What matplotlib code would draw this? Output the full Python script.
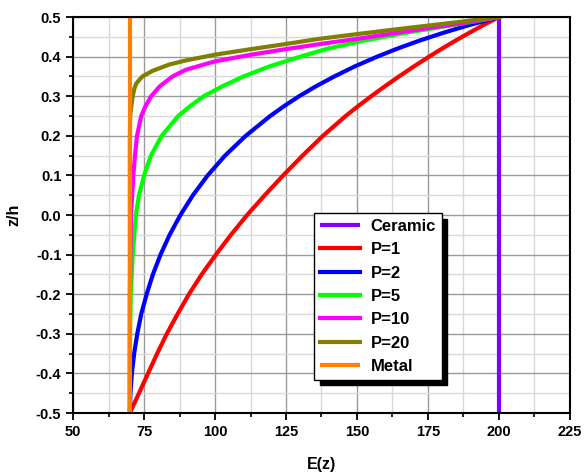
import matplotlib
matplotlib.use("Agg")
import matplotlib.pyplot as plt
from matplotlib.ticker import MultipleLocator, FormatStrFormatter

plt.rcParams['font.family'] = ['Liberation Sans', 'DejaVu Sans']
plt.rcParams['font.weight'] = 'bold'
plt.rcParams['axes.unicode_minus'] = False

# Values (E(z) against z/h)
z_p1 = [-0.5, -0.45, -0.4, -0.35, -0.3, -0.25, -0.2, -0.15, -0.1, -0.05,
        0.0, 0.05, 0.1, 0.15, 0.2, 0.25, 0.275, 0.3, 0.325, 0.35,
        0.375, 0.4, 0.42, 0.44, 0.46, 0.48, 0.5]
E_p1 = [70, 73.2, 76.4, 79.6, 83.0, 86.8, 90.8, 95.3, 100.3, 105.6,
        111.3, 117.5, 124.0, 130.8, 138.0, 146.0, 150.4, 155.0, 159.8, 164.8,
        170.0, 175.4, 179.9, 184.6, 189.5, 194.6, 200]

z_p2 = [-0.5, -0.45, -0.4, -0.35, -0.3, -0.25, -0.2, -0.15, -0.1, -0.05,
        0.0, 0.05, 0.1, 0.15, 0.2, 0.25, 0.275, 0.3, 0.325, 0.35,
        0.375, 0.4, 0.42, 0.44, 0.46, 0.48, 0.5]
E_p2 = [70, 70.2, 70.7, 71.5, 72.6, 74.0, 75.9, 78.1, 80.8, 84.0,
        87.8, 92.2, 97.4, 103.5, 110.8, 119.4, 124.3, 129.6, 135.5, 142.0,
        149.1, 157.1, 164.1, 171.8, 180.3, 189.6, 200]

z_p5 = [-0.5, -0.4, -0.3, -0.2, -0.1, 0.0, 0.05, 0.1, 0.15, 0.2,
        0.25, 0.275, 0.3, 0.325, 0.35, 0.375, 0.4, 0.42, 0.44, 0.46,
        0.48, 0.5]
E_p5 = [70, 70.0, 70.05, 70.3, 71.0, 72.1, 73.2, 75.0, 77.4, 81.2,
        87.0, 91.2, 96.0, 102.5, 110.0, 119.0, 130.0, 139.5, 152.0, 167.0,
        184.0, 200]

z_p10 = [-0.5, -0.2, 0.0, 0.1, 0.15, 0.2, 0.25, 0.275, 0.3, 0.325,
         0.35, 0.367, 0.388, 0.405, 0.419, 0.433, 0.445, 0.458, 0.472, 0.485,
         0.5]
E_p10 = [70, 70.0, 70.4, 71.2, 71.8, 72.5, 74.0, 75.5, 77.5, 80.5,
         85.0, 89.7, 99.9, 112.6, 124.9, 138.0, 150.0, 162.0, 175.0, 187.5,
         200]

z_p20 = [-0.5, 0.2, 0.25, 0.275, 0.3, 0.32, 0.333, 0.35, 0.364, 0.38,
         0.3905, 0.405, 0.419, 0.432, 0.445, 0.457, 0.468, 0.489, 0.5]
E_p20 = [70, 70.0, 70.1, 70.5, 71.0, 71.6, 72.3, 74.4, 77.9, 83.8,
         89.7, 99.9, 112.6, 124.9, 136.6, 150.0, 162.5, 187.5, 200]

E_ceramic = [200, 200]
E_metal = [70, 70]
z_ends = [-0.5, 0.5]

fig = plt.figure(figsize=(5.85, 4.75), dpi=100)
ax = fig.add_axes([0.125, 0.1305, 0.849, 0.8335])

lw = 3.0
kw = dict(lw=lw, solid_joinstyle='round')
ax.plot(E_ceramic, z_ends, color='#8000FF', label='Ceramic', solid_capstyle='butt', lw=lw)
ax.plot(E_p1, z_p1, color='#FF0000', label='P=1', **kw)
ax.plot(E_p2, z_p2, color='#0000FF', label='P=2', **kw)
ax.plot(E_p5, z_p5, color='#00FF00', label='P=5', **kw)
ax.plot(E_p10, z_p10, color='#FF00FF', label='P=10', **kw)
ax.plot(E_p20, z_p20, color='#808000', label='P=20', **kw)
ax.plot(E_metal, z_ends, color='#FF8000', label='Metal', solid_capstyle='butt', lw=lw)

ax.set_xlim(50, 225)
ax.set_ylim(-0.5, 0.5)
ax.xaxis.set_major_locator(MultipleLocator(25))
ax.xaxis.set_minor_locator(MultipleLocator(12.5))
ax.yaxis.set_major_locator(MultipleLocator(0.1))
ax.yaxis.set_minor_locator(MultipleLocator(0.05))
ax.yaxis.set_major_formatter(FormatStrFormatter('%.1f'))

ax.grid(which='major', color='#9a9a9a', lw=1.0)
ax.grid(which='minor', color='#d9d9d9', lw=1.0)
ax.set_axisbelow(True)

for s in ax.spines.values():
    s.set_linewidth(1.5)
ax.tick_params(which='major', direction='out', length=5, width=1.3, labelsize=10.5)
ax.tick_params(which='minor', direction='out', length=3, width=1.2)
for lab in ax.get_xticklabels() + ax.get_yticklabels():
    lab.set_fontweight('bold')

ax.set_xlabel('E(z)', fontsize=11.5, fontweight='bold', labelpad=13)
ax.set_ylabel('z/h', fontsize=11.5, fontweight='bold', labelpad=10)

leg = ax.legend(loc='upper left', bbox_to_anchor=(0.485, 0.505), fontsize=12,
                frameon=True, fancybox=False,
                shadow={'color': 'black', 'alpha': 1, 'ox': 4, 'oy': -4},
                handlelength=2.4, handletextpad=0.65, labelspacing=0.5, borderpad=0.35,
                borderaxespad=0)
leg.get_frame().set_edgecolor('black')
leg.get_frame().set_linewidth(1.0)
leg.get_frame().set_alpha(1)
for t in leg.get_texts():
    t.set_fontweight('bold')

fig.savefig('out.png', dpi=100)
